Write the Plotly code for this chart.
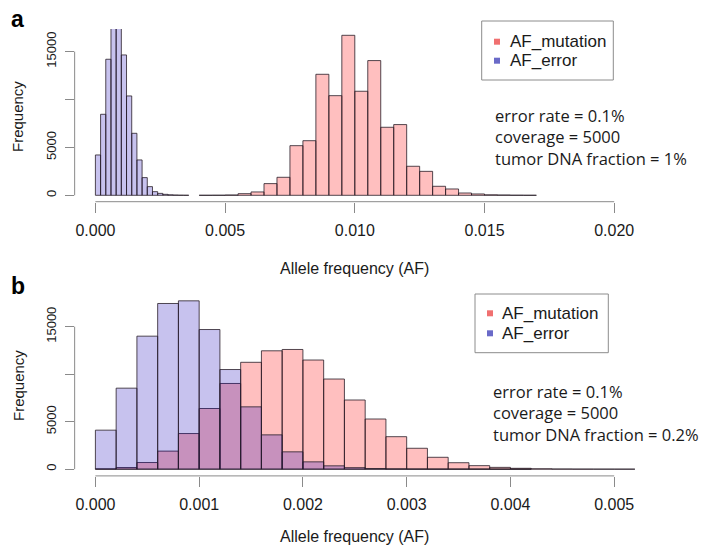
import numpy as np
import plotly.graph_objects as go

W, H = 716, 545

# ---------------- data (histogram counts) ----------------
# Panel a : tumor DNA fraction = 1%
A_ERR_START, A_ERR_BINW = 0.0, 0.0002
A_ERR_COUNTS = [4210, 8455, 14200, 17500, 17800, 14650, 10370, 6470, 3690, 1845,
                905, 380, 200, 100, 50, 25, 10, 5]
A_MUT_START, A_MUT_BINW = 0.004, 0.0005
A_MUT_COUNTS = [2, 8, 30, 170, 350, 1220, 1880, 5180, 5700, 12630, 10400, 16700,
                10860, 14060, 7100, 7380, 3030, 2500, 940, 660, 240, 140, 50, 30, 10, 5]

# Panel b : tumor DNA fraction = 0.2%
B_ERR_START, B_ERR_BINW = 0.0, 0.0002
B_ERR_COUNTS = [4105, 8526, 14000, 17440, 17720, 14700, 10490, 6560, 3610, 1825,
                770, 350, 160, 70, 30, 12, 5, 3, 2, 1, 1]
B_MUT_START, B_MUT_BINW = 0.0, 0.0002
B_MUT_COUNTS = [30, 175, 700, 1900, 3750, 6386, 9020, 11250, 12460, 12600, 11490,
                9490, 7280, 5280, 3420, 2200, 1250, 680, 370, 190, 90, 40, 15, 6, 2, 1]

A_XTICKS = [0.000, 0.005, 0.010, 0.015, 0.020]
A_XTICKTEXT = ["0.000", "0.005", "0.010", "0.015", "0.020"]
B_XTICKS = [0.000, 0.001, 0.002, 0.003, 0.004, 0.005]
B_XTICKTEXT = ["0.000", "0.001", "0.002", "0.003", "0.004", "0.005"]
YTICKS = [0, 5000, 10000, 15000]
YTICKTEXT = ["0", "5000", "", "15000"]

SERIES = ["AF_mutation", "AF_error"]
NOTES_A = ["error rate = 0.1%", "coverage = 5000", "tumor DNA fraction = 1%"]
NOTES_B = ["error rate = 0.1%", "coverage = 5000", "tumor DNA fraction = 0.2%"]

# ---------------- styles ----------------
PINK = "rgba(255,0,0,0.25)"
BLUE = "rgba(20,0,185,0.24)"
EDGE = "rgba(40,30,40,0.8)"
AXC = "#8a8a8a"
TXT = "#1a1a1a"
LEG_PINK = "#f07070"
LEG_BLUE = "#6a6ac8"
FONT = "Liberation Sans, Arial, sans-serif"
NOTE_FONT = "Open Sans, sans-serif"


def px_x(p):
    return p / W


def px_y(p):
    return 1 - p / H


def edges(start, w, n):
    return np.round(start + w * np.arange(n), 6)


fig = go.Figure()

def add_hist(start, w, counts, color, xa, ya):
    fig.add_trace(go.Bar(
        x=edges(start, w, len(counts)), y=counts, width=w, offset=0,
        marker=dict(color=color, line=dict(color=EDGE, width=1)),
        xaxis=xa, yaxis=ya, showlegend=False, hoverinfo="x+y"))

add_hist(A_MUT_START, A_MUT_BINW, A_MUT_COUNTS, PINK, "x", "y")
add_hist(A_ERR_START, A_ERR_BINW, A_ERR_COUNTS, BLUE, "x", "y")
add_hist(B_MUT_START, B_MUT_BINW, B_MUT_COUNTS, PINK, "x2", "y2")
add_hist(B_ERR_START, B_ERR_BINW, B_ERR_COUNTS, BLUE, "x2", "y2")

xdom = [px_x(74.65), px_x(634.95)]
a_ydom = [px_y(201.7), px_y(28.9)]
b_ydom = [px_y(475.9), px_y(294.1)]

a_max = max(A_MUT_COUNTS)
b_max = max(max(B_MUT_COUNTS), max(B_ERR_COUNTS))

xcommon = dict(showgrid=False, zeroline=False, showline=False, ticks="outside",
               ticklen=10, tickcolor=AXC, tickwidth=1,
               tickfont=dict(family=FONT, size=16, color=TXT), ticklabelstandoff=4)
ycommon = dict(showgrid=False, zeroline=False, showline=False, ticks="outside",
               ticklen=9, tickcolor=AXC, tickwidth=1, tickangle=-90,
               tickvals=YTICKS, ticktext=YTICKTEXT,
               tickfont=dict(family=FONT, size=13, color=TXT), ticklabelstandoff=3)

fig.update_layout(
    width=W, height=H, margin=dict(l=0, r=0, t=0, b=0),
    paper_bgcolor="white", plot_bgcolor="white", barmode="overlay",
    showlegend=False,
    xaxis=dict(domain=xdom, anchor="y", range=[-0.04 * 0.02, 0.02 * 1.04],
               tickvals=A_XTICKS, ticktext=A_XTICKTEXT, **xcommon),
    yaxis=dict(domain=a_ydom, anchor="x", range=[-0.04 * a_max, 1.04 * a_max], **ycommon),
    xaxis2=dict(domain=xdom, anchor="y2", range=[-0.04 * 0.005, 0.005 * 1.04],
                tickvals=B_XTICKS, ticktext=B_XTICKTEXT, **xcommon),
    yaxis2=dict(domain=b_ydom, anchor="x2", range=[-0.04 * b_max, 1.04 * b_max], **ycommon),
)

shapes = []
# R-style axis lines spanning first..last tick
for xr, yr, xt in (("x", "y", A_XTICKS), ("x2", "y2", B_XTICKS)):
    shapes.append(dict(type="line", xref=xr, yref=yr + " domain", x0=xt[0], x1=xt[-1],
                       y0=0, y1=0, line=dict(color=AXC, width=1)))
    shapes.append(dict(type="line", xref=xr + " domain", yref=yr, x0=0, x1=0,
                       y0=YTICKS[0], y1=YTICKS[-1], line=dict(color=AXC, width=1)))

annotations = []

def legend_box(x0, x1, y0, y1, sq_x, txt_x, rows):
    shapes.append(dict(type="rect", xref="paper", yref="paper", x0=px_x(x0), x1=px_x(x1),
                       y0=px_y(y1), y1=px_y(y0), line=dict(color="#8c8c8c", width=1),
                       fillcolor="white", layer="above"))
    for (ry, name, col) in rows:
        shapes.append(dict(type="rect", xref="paper", yref="paper",
                           x0=px_x(sq_x - 3), x1=px_x(sq_x + 3),
                           y0=px_y(ry + 3), y1=px_y(ry - 3),
                           line=dict(width=0), fillcolor=col, layer="above"))
        annotations.append(dict(xref="paper", yref="paper", x=px_x(txt_x), y=px_y(ry),
                                xanchor="left", yanchor="middle", showarrow=False,
                                text=name, font=dict(family=FONT, size=17, color=TXT)))

legend_box(481.7, 613.3, 21, 80, 497, 508, [(41.7, SERIES[0], LEG_PINK), (60.7, SERIES[1], LEG_BLUE)])
legend_box(475, 608.3, 294, 352.7, 490, 500, [(313.3, SERIES[0], LEG_PINK), (333.3, SERIES[1], LEG_BLUE)])

def notes(x, ymid, lines):
    annotations.append(dict(xref="paper", yref="paper", x=px_x(x), y=px_y(ymid),
                            xanchor="left", yanchor="middle", align="left", showarrow=False,
                            text="<br>".join(lines),
                            font=dict(family=NOTE_FONT, size=16.5, color=TXT)))

notes(493, 136.5, NOTES_A)
notes(491, 413, NOTES_B)

# panel letters
for t, yy in (("a", 19), ("b", 286)):
    annotations.append(dict(xref="paper", yref="paper", x=px_x(9), y=px_y(yy),
                            xanchor="left", yanchor="middle", showarrow=False,
                            text="<b>%s</b>" % t, font=dict(family=FONT, size=23, color="#000")))

# axis titles
for yy in (268, 536):
    annotations.append(dict(xref="paper", yref="paper", x=px_x(354.8), y=px_y(yy),
                            xanchor="center", yanchor="middle", showarrow=False,
                            text="Allele frequency (AF)", font=dict(family=FONT, size=16, color=TXT)))
for yy in (117, 386):
    annotations.append(dict(xref="paper", yref="paper", x=px_x(18), y=px_y(yy),
                            xanchor="center", yanchor="middle", showarrow=False, textangle=-90,
                            text="Frequency", font=dict(family=FONT, size=15, color=TXT)))

fig.update_layout(shapes=shapes, annotations=annotations)
fig.write_html("out.html")
